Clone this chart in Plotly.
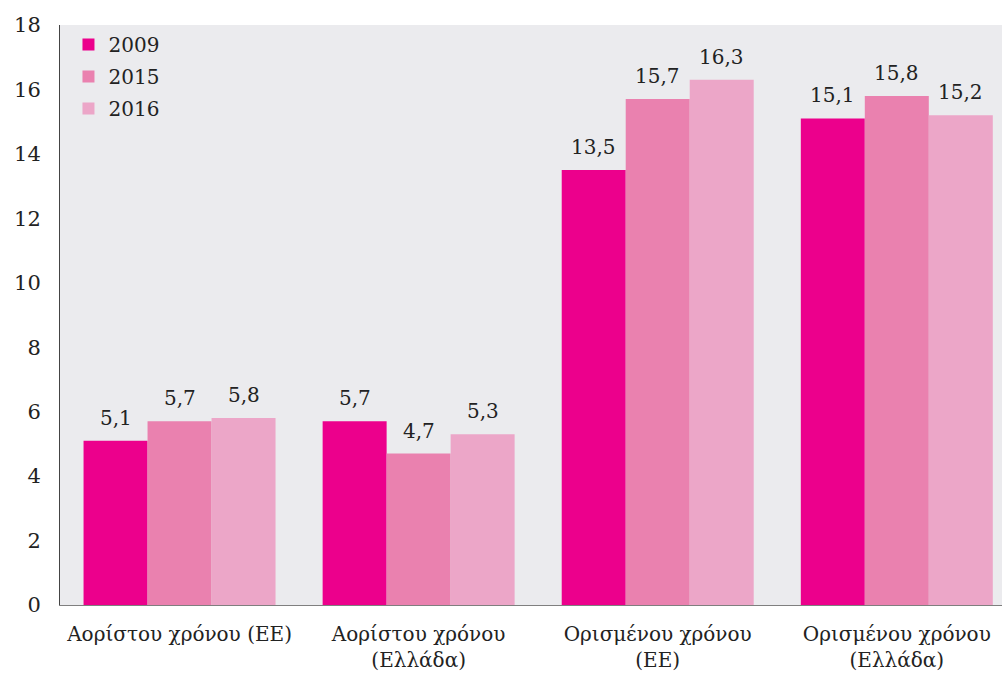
import plotly.graph_objects as go

categories = ["Αορίστου χρόνου (ΕΕ)", "Αορίστου χρόνου<br>(Ελλάδα)",
              "Ορισμένου χρόνου<br>(ΕΕ)", "Ορισμένου χρόνου<br>(Ελλάδα)"]
years = ["2009", "2015", "2016"]
values_2009 = [5.1, 5.7, 13.5, 15.1]
values_2015 = [5.7, 4.7, 15.7, 15.8]
values_2016 = [5.8, 5.3, 16.3, 15.2]
y_ticks = [0, 2, 4, 6, 8, 10, 12, 14, 16, 18]

series = [values_2009, values_2015, values_2016]
colors = ["#EC008C", "#EA81AF", "#ECA6C8"]
FONT = "DejaVu Serif"

fig = go.Figure()
for name, vals, col in zip(years, series, colors):
    fig.add_trace(go.Bar(
        name=name, x=list(range(len(categories))), y=vals,
        legendgroup=name,
        marker=dict(color=col, line=dict(width=0)),
    ))

# value labels above each bar, decimal comma
offsets = [-64, 0, 64]
for vals, dx in zip(series, offsets):
    for i, v in enumerate(vals):
        fig.add_annotation(
            x=i, y=v, text=f"{v:.1f}".replace(".", ","),
            showarrow=False, xshift=dx, yshift=9, yanchor="bottom",
            font=dict(family=FONT, size=20, color="#222222"),
        )

fig.update_layout(
    width=1002, height=674,
    margin=dict(l=60, r=0, t=25, b=69),
    paper_bgcolor="white", plot_bgcolor="#EBEBEE",
    barmode="group", bargap=0.197, bargroupgap=0,
    font=dict(family=FONT, size=20, color="#222222"),
    showlegend=True,
    legend=dict(x=0.009, y=1.0, xanchor="left", yanchor="top",
                bgcolor="rgba(0,0,0,0)", font=dict(size=20, family=FONT),
                itemwidth=30, tracegroupgap=3),
    xaxis=dict(
        range=[-0.5, 3.44], tickmode="array",
        tickvals=list(range(len(categories))), ticktext=categories,
        showgrid=False, showline=True, linecolor="#7F7F7F", linewidth=1,
        ticks="", tickfont=dict(size=20, family=FONT), ticklabelstandoff=11,
        automargin=False,
    ),
    yaxis=dict(
        range=[0, 18], tickmode="array", tickvals=y_ticks,
        showgrid=False, zeroline=False, showline=True,
        linecolor="#444444", linewidth=1, ticks="",
        tickfont=dict(size=21, family=FONT), ticklabelstandoff=14,
        automargin=False,
    ),
)

fig.write_html("out.html")
